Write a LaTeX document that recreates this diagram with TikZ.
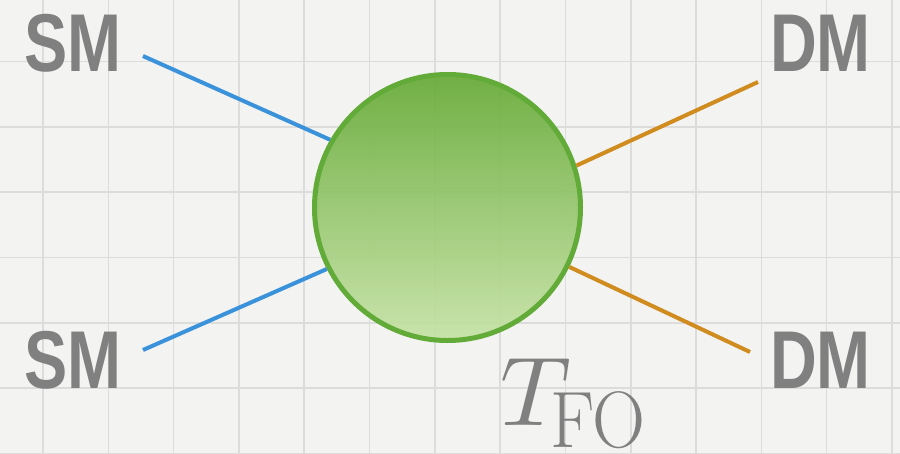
\documentclass[tikz,border=0pt]{standalone}
\usepackage{fontspec}
\usepackage{unicode-math}
\setsansfont{Liberation Sans}
\usetikzlibrary{calc}
\definecolor{paper}{HTML}{F3F3F1}
\definecolor{gridc}{HTML}{DCDCDA}
\definecolor{labelgray}{HTML}{808080}
\definecolor{smblue}{HTML}{3A92DB}
\definecolor{dmorange}{HTML}{D08C1E}
\definecolor{blobtop}{HTML}{66AA36}
\definecolor{blobbot}{HTML}{C6E3A6}
\definecolor{blobedge}{HTML}{62AB38}
\tikzset{
  particle/.style={inner sep=0pt, anchor=base west, text=labelgray,
    font=\sffamily\bfseries\fontsize{82}{82}\selectfont},
  smline/.style={draw=smblue, line width=4pt},
  dmline/.style={draw=dmorange, line width=4pt},
  blobstyle/.style={circle, inner sep=0pt, minimum size=266pt, draw=blobedge,
    line width=5pt, top color=blobtop, bottom color=blobbot, fill opacity=0.92},
  gridline/.style={draw=gridc, line width=1.6pt},
  templabel/.style={inner sep=0pt, anchor=base west, text=labelgray}
}
\begin{document}
\begin{tikzpicture}[x=1pt,y=-1pt]
  \fill[paper] (0,0) rectangle (900,453);
  \useasboundingbox (0,0) rectangle (900,453);
  % grid
  \foreach \gx in {43,108.3,173.6,238.9,304.2,369.5,434.8,500.1,565.4,630.7,696,761.3,826.6,891.9}
    \draw[gridline] (\gx,0) -- (\gx,453);
  \foreach \gy in {61.3,126.7,192,257.4,322.7,388,453.4}
    \draw[gridline] (0,\gy) -- (900,\gy);
  % blob
  \node[blobstyle] (blob) at (447.5,207.5) {};
  % external points
  \coordinate (smA) at (143,56);
  \coordinate (smB) at (143,350);
  \coordinate (dmA) at (758,82);
  \coordinate (dmB) at (750,352);
  \draw[smline] (smA) -- (blob.150);
  \draw[smline] (smB) -- (blob.207);
  \draw[dmline] (dmA) -- (blob.18);
  \draw[dmline] (dmB) -- (blob.-26);
  % labels
  \node[particle] (smAlabel) at (24,71) {\scalebox{0.79}[1]{SM}};
  \node[particle] (smBlabel) at (24,388) {\scalebox{0.79}[1]{SM}};
  \node[particle] (dmAlabel) at (770,71) {\scalebox{0.79}[1]{DM}};
  \node[particle] (dmBlabel) at (770,388) {\scalebox{0.79}[1]{DM}};
  \node[templabel] (tlabel) at (500,425)
    {\fontsize{98}{98}\selectfont$T$};
  \node[templabel] (folabel) at (550,447)
    {\scalebox{0.92}[1]{\fontsize{80}{80}\selectfont FO}};
\end{tikzpicture}
\end{document}
